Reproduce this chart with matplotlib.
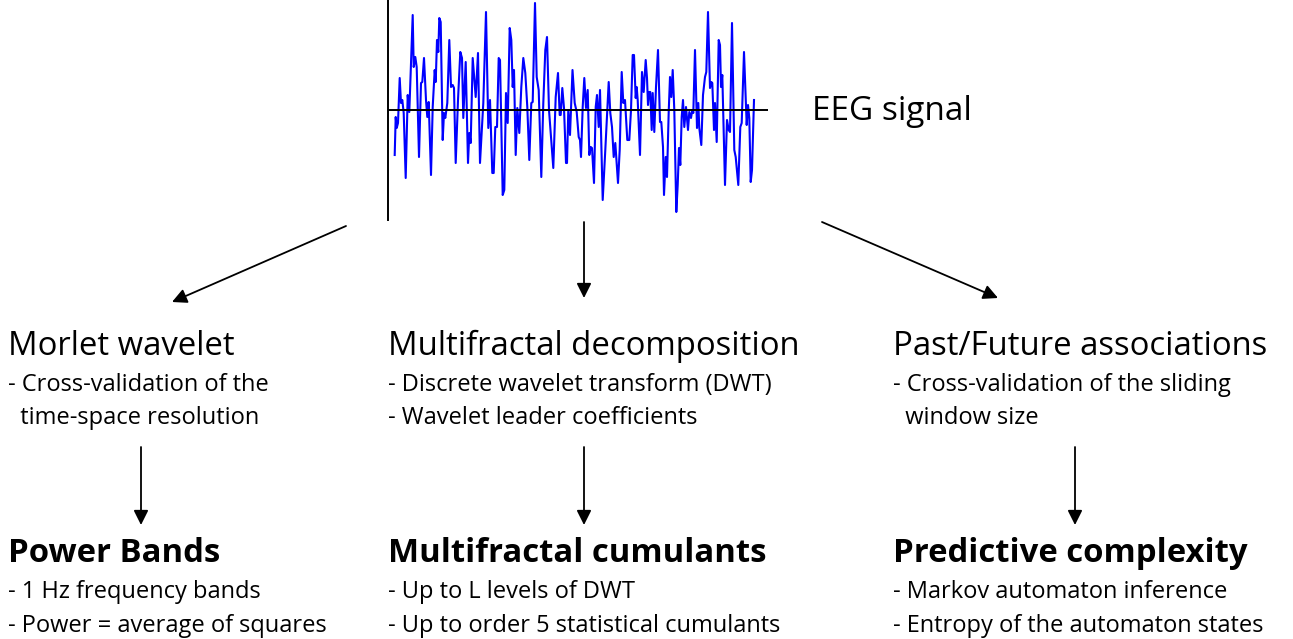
import matplotlib
matplotlib.use("Agg")
import matplotlib.pyplot as plt

plt.rcParams["font.family"] = ["Open Sans", "DejaVu Sans"]

# EEG trace: sample time and amplitude (arbitrary units)
eeg_t = [6.7, 7.7, 8.7, 10, 11.7, 13, 14.3, 15.7, 17.7, 19.7, 21.3, 24.7, 25.7, 27.3,
         28.7, 31, 33, 34.3, 36, 38, 39.3, 40.7, 43, 44.7, 46.7, 47.7, 49, 50.3, 51.3,
         52.7, 54.7, 56, 57.3, 59.3, 61.3, 63, 64.7, 66, 67.7, 70, 72.3, 74, 75.3, 77.7,
         80, 81.3, 82.7, 84.7, 87.7, 90, 92, 95.3, 98, 100.3, 102, 104.3, 105.7, 107.3,
         109, 110.7, 112, 114.7, 116.3, 118, 119.7, 121.7, 123.3, 124.7, 126, 127.7,
         129.3, 131.3, 133.3, 135.3, 137.3, 139.3, 141.3, 143.3, 144.7, 147, 148.7,
         150.7, 153.3, 155.3, 157.3, 159, 161, 165.3, 167.7, 170, 171.7, 172.7, 174.3,
         176, 178, 179, 180.3, 182, 184.5, 186.7, 188.7, 190.7, 192, 193, 194.7, 196.3,
         198, 199.7, 201.3, 202.7, 204, 206, 207.7, 209, 210.7, 212, 214.7, 217.3, 220.7,
         222.3, 224, 225.7, 227.3, 230, 231.7, 233.7, 235.3, 237, 239.3, 241.3, 243,
         244.7, 246, 247.7, 248.7, 249.7, 252, 254, 255.7, 257.7, 259, 260, 261, 262.3,
         263.7, 264.7, 266.3, 268, 270, 272, 273.3, 275, 276, 277.7, 279, 280.7, 282,
         283.3, 284.7, 286.3, 288.3, 289.7, 291, 292.3, 293.7, 295, 296.3, 298, 300,
         301.3, 303, 304.3, 305.3, 307, 309, 310.3, 311.3, 313.3, 315, 317, 318.3, 320,
         322, 323.3, 324.3, 326, 327, 328.7, 330.7, 332, 333, 334.3, 337, 339, 340.7,
         342, 344, 346.3, 347.7, 350.3, 352.3, 353.7, 356, 358.7, 360, 361.3, 362.7,
         364, 366]
eeg_amp = [-45, -7, -18, -13, 32, 7, 10, -3, -68, 15, -2, 95, 43, 53,
           43, -47, 27, 28, 52, 10, -7, 8, -65, 3, 40, 28, 70, 58, 92,
           88, -30, -3, -8, 7, 70, 23, 25, 22, -53, 10, 58, 52, -8, 48,
           -53, -23, -33, 52, 13, 57, -53, 7, 98, -18, 10, -63, -63, -17,
           -17, 52, 50, -85, -80, 17, -13, 82, 70, 23, 40, -45,
           2, -23, 23, 52, 37, 3, -50, 7, 8, 107, 33,
           20, -67, 7, 60, 73, 0, -58, 13, 37, -5, -5, 22,
           2, -53, -53, 0, -25, 40, 7, -2, -27, -30, -47, 3, 32,
           2, 20, -45, -37, -38, -73, 3, 15, -17, 20, -90, -40, 28,
           -3, -17, -47, -33, -73, -40, 38, 7, 10, -30, -30, 0,
           55, 55, 12, 23, 10, -45, 38, 18, 50, 32, 5, 18, 18,
           -20, 17, -22, 23, 60, -12, -12, -37, -85, -47, -67, -2, 33,
           13, 40, 0, -102, -75, -38, -55, -7, 10, -17, 3, -20,
           -2, -8, 0, -3, 60, -18, 7, -18, -35, 15, 33, 38, 98,
           22, 28, 27, -20, 7, -32, 70, 65, 23, 35, -75, -10, -20,
           -22, 87, -40, -47, -75, -17, -13, 58, -15, 5, -8, -72,
           -60, 10]

steps = ["Morlet wavelet", "Multifractal decomposition", "Past/Future associations"]
step_notes = [["- Cross-validation of the", "  time-space resolution"],
              ["- Discrete wavelet transform (DWT)", "- Wavelet leader coefficients"],
              ["- Cross-validation of the sliding", "  window size"]]
features = ["Power Bands", "Multifractal cumulants", "Predictive complexity"]
feature_notes = [["- 1 Hz frequency bands", "- Power = average of squares"],
                 ["- Up to L levels of DWT", "- Up to order 5 statistical cumulants"],
                 ["- Markov automaton inference", "- Entropy of the automaton states"]]

W, H = 1293, 639
fig = plt.figure(figsize=(W / 100, H / 100), dpi=100)

# canvas in pixel units for the diagram layout
canvas = fig.add_axes([0, 0, 1, 1])
canvas.set_xlim(0, W)
canvas.set_ylim(H, 0)
canvas.axis("off")

# signal panel
sig = fig.add_axes([388 / W, (H - 220) / H, 380 / W, 220 / H])
sig.plot(eeg_t, eeg_amp, color="#0000ff", lw=1.5)
sig.axhline(0, color="black", lw=1.4)
sig.set_xlim(0, 380)
sig.set_ylim(-110, 110)
for s in ["top", "right", "bottom"]:
    sig.spines[s].set_visible(False)
sig.spines["left"].set_linewidth(1.4)
sig.set_xticks([])
sig.set_yticks([])
sig.patch.set_alpha(0)

canvas.text(812, 120, "EEG signal", fontsize=24, va="baseline")

col_x = [8, 388, 893]
arrow_x = [141, 584, 1075]
top_arrows = [((346, 226), (172, 302)), ((584, 222), (584, 298)), ((822, 222), (998, 298))]
aprops = dict(arrowstyle="-|>", color="black", lw=1.3, mutation_scale=22,
              shrinkA=0, shrinkB=0)

for (a, b) in top_arrows:
    canvas.annotate("", xy=b, xytext=a, arrowprops=aprops)

for i in range(3):
    x = col_x[i]
    canvas.text(x, 355, steps[i], fontsize=23.7, va="baseline")
    for j, line in enumerate(step_notes[i]):
        canvas.text(x, 391 + 33 * j, line, fontsize=17, va="baseline")
    canvas.annotate("", xy=(arrow_x[i], 525), xytext=(arrow_x[i], 447), arrowprops=aprops)
    canvas.text(x, 562, features[i], fontsize=23.7, fontweight="bold", va="baseline")
    for j, line in enumerate(feature_notes[i]):
        canvas.text(x, 598 + 34 * j, line, fontsize=17, va="baseline")

fig.savefig("out.png", dpi=100)
